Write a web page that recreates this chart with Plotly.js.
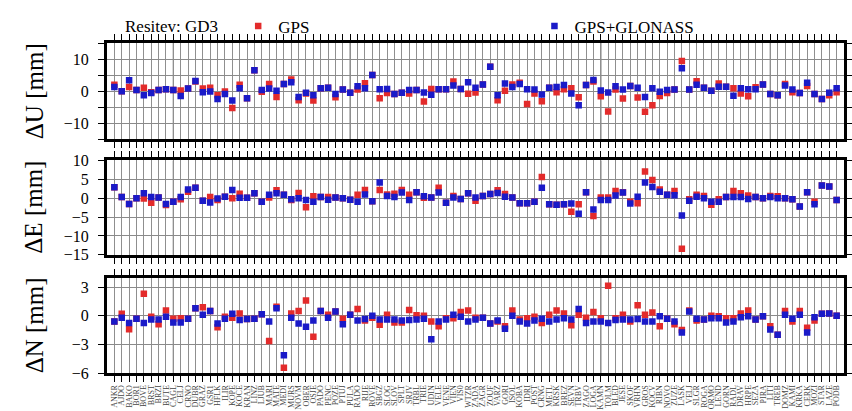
<!DOCTYPE html>
<html>
<head>
<meta charset="utf-8">
<script src="https://cdn.plot.ly/plotly-3.0.1.min.js"></script>
<style>html,body{margin:0;padding:0;background:#fff;}#chart{width:852px;height:411px;}</style>
</head>
<body>
<div id="chart"></div>
<script>
const stations = ["ANKR","AJDO","BAKO","BOR1","BOVE","BRST","BRZI","BUTE","CAGL","CELJ",
"CRNO","DUBR","GRAZ","GSR1","HFLK","ILIR","KOPE","KOCE","KRAN","LINZ",
"LJUB","MARI","MATE","MEDI","MURS","NOVM","OBER","OSJE","PADO","PENC",
"POZE","PTUJ","PULA","RADO","RIJE","ROVE","SBGZ","SLOG","SLOV","SPLT",
"SRJV","TRBL","TRIE","UDIN","VELE","VENE","VIEN","VIS0","WTZR","ZADA",
"ZAGR","ZOUF","VARZ","GORI","ISOL","KOBA","IDRI","POST","CRNG","METL",
"KRSK","BREZ","SEVN","TRBV","ZAGO","LOGA","KAMN","TOLM","BLED","JESE",
"SKOF","VRHN","GROS","KOCV","RIBN","NOVO","ZUZE","LASK","VELJ","SLGR",
"ROGA","ORMO","LEND","GORN","RADL","DRAV","HRPE","SEZA","PIRA","LITI",
"TREB","DOMZ","KAMI","KRKA","CERK","MOZI","STAR","LAZE","PODB"];

const groupBreaks = ["CAGL","PULA","KAMN","LITI"];

// ΔU [mm]
const dU_gps = [2.0,0,1.3,0.4,1.1,-0.3,0.4,0.6,0.4,0.2,0.8,3.0,0.8,1.1,-1.3,-0.1,-5.2,2.0,-2.2,6.5,
-0.2,2.2,-1.8,2.2,3.6,-2.8,-0.7,-2.9,0.9,1.1,-1.9,0.5,-0.5,0.5,2.5,5.0,-2.2,-0.6,-0.9,-0.5,
-0.7,0.4,-3.2,0.7,0.6,0.6,3.0,0.7,-0.8,-0.4,2.1,7.6,-2.8,0.1,2.1,2.6,-4.0,-0.7,-3.1,1.1,
-0.3,0.6,0.9,-1.9,1.9,3.0,-1.6,-6.3,0.5,-2.3,1.6,-2.0,-6.4,-4.4,-1.5,-0.6,0.5,9.4,0.5,3.1,
1.1,0.1,2.4,1.4,0.9,-0.7,-1.6,1.2,2.1,-0.9,-1.3,2.2,-0.3,-0.6,1.6,-0.9,-2.4,-1.3,-0.3];
const dU_gg = [1.3,0,3.4,0.4,-1.3,-0.6,0.4,0.6,0.4,-1.5,0.8,3.2,-0.3,-0.1,-2.4,-0.9,-2.9,0.9,-2.2,6.5,
0.4,0.8,0.1,2.2,2.8,-1.8,-0.5,-1.3,0.9,1.1,-0.9,0.5,-0.5,1.5,0.9,5.0,0.6,0.7,-0.9,-0.5,
0.4,0.4,-0.4,-1.1,0.6,0.6,1.8,0.7,2.8,1.1,2.1,7.6,-1.3,2.4,1.3,2.2,0.6,0.5,-1.0,1.1,
1.3,1.9,-0.7,-4.4,1.9,3.5,0.2,-0.4,1.5,0.5,1.6,1.1,-1.8,0.9,-0.2,0.4,0.5,7.1,0.5,2.0,
1.1,0.1,1.4,1.4,-1.4,0.9,0.6,0.6,2.1,-0.9,-1.3,1.8,0.5,-0.6,2.6,-0.9,-2.4,-0.5,0.9];

// ΔE [mm]
const dE_gps = [2.9,0.3,-1.5,0,-0.1,-1.2,0.2,-1.8,-0.9,-0.3,1.7,2.8,-0.7,0.3,-0.5,0.4,0,1.2,0.1,1.3,
-0.9,0.2,2.1,0.9,-0.5,1.4,-2.4,0.5,0.3,0.3,0.2,0,-0.4,0.9,2.2,-0.8,2.2,1.0,1.2,2.2,
0.9,1.6,0.1,0.2,2.8,-1.2,0.6,-0.2,1.3,-0.7,0.6,1.1,2.1,1.1,0.2,-1.3,-1.3,-0.9,5.6,-1.6,
-1.7,-1.6,-3.6,-1.6,1.6,-4.7,0.2,0.2,1.9,1.6,-0.9,-1.3,7.1,4.8,2.3,0.9,1.9,-13.4,-0.3,0.9,
0.6,-1.7,-0.3,0.3,1.9,1.3,0.7,0.3,0,0.6,0.5,0,-0.3,-2.2,1.6,-0.9,3.4,3.1,-0.5];
const dE_gg = [2.9,0.3,-1.5,0,1.3,0.3,0.2,-1.5,-0.9,0.3,2.3,2.8,-0.7,-1.1,-0.1,0.4,2.2,0.1,0.1,1.3,
-0.9,0.9,1.3,0.9,-0.3,0,-0.5,-0.9,0.3,-0.4,0.2,0,-0.4,-0.9,1.0,-0.8,4.2,0.6,0.3,1.5,
-0.5,1.6,0.5,0.2,1.5,-1.2,0.2,-0.2,1.3,0.2,0.6,1.1,1.4,0.4,0.2,-1.3,-1.3,-0.9,2.8,-1.6,
-1.7,-1.6,-1.4,-4.1,1.6,-3.0,-0.5,-0.5,0.7,1.5,-1.4,0.4,4.2,3.0,1.7,0.9,0.8,-4.6,-0.7,0.4,
0,-0.9,-0.9,0.3,0.3,0.3,-0.2,0.3,0,0.3,0,0,-0.3,-2.2,1.6,-1.6,3.4,3.1,-0.5];

// ΔN [mm]
const dN_gps = [-0.6,0.2,-1.4,-0.3,2.3,-0.1,-0.9,0.55,-0.3,-0.25,-0.3,0.8,0.9,0.5,-1.2,-0.1,-0.2,0.25,-0.35,-0.3,
0.15,-2.65,0.95,-5.45,0.25,0.5,1.6,-2.2,0.5,0.1,0.45,-0.3,0.1,0.7,-0.5,-0.2,-0.95,0.1,-0.7,-0.7,
0.6,0.05,0,-0.6,-1.1,-0.25,-0.25,0.4,0.55,-0.2,-0.2,-0.8,-0.6,-1.1,0.55,-0.4,-0.25,-0.1,-0.75,0.1,
0.55,0.25,-1.0,0.1,-0.2,0.4,-0.25,3.15,-0.25,0.1,-0.6,1.1,0.1,0.35,-1.1,-0.3,-0.9,-1.5,0.55,-0.5,
-0.4,0,-0.05,-0.25,-0.25,0.25,0.55,-0.4,-0.05,-1.1,-2.0,0.5,-0.6,0.5,-1.25,-0.5,0.2,0.25,0];
const dN_gg = [-0.6,-0.2,-0.75,-0.3,-0.75,-0.4,-0.4,-0.1,-0.7,-0.7,-0.3,0.8,0.1,0.5,-0.8,-0.3,0.2,-0.45,-0.35,-0.3,
0.15,-0.6,0.8,-4.15,-0.2,-0.8,-1.15,-0.5,0.5,-0.2,0.45,-0.9,0.1,-0.5,-0.35,0,-0.4,-0.4,-0.4,-0.5,
-0.45,-0.4,-0.3,-2.45,-0.6,-0.4,0.1,-0.1,-0.6,-0.4,-0.2,-0.8,-0.5,-1.35,0,-0.6,-0.8,-0.5,-0.3,-0.6,
-0.4,-0.25,-0.4,0.7,-0.75,-0.6,-0.6,-0.75,-0.45,-0.4,-0.4,-0.35,-0.6,-0.6,-0.05,-0.3,-0.6,-1.75,0.45,-0.3,
-0.4,-0.25,-0.25,-0.7,-0.6,-0.15,-0.05,-0.4,-0.05,-1.45,-2.0,0.1,-0.3,0.1,-1.75,-0.15,0.2,0.25,0];

const seriesNames = ["GPS","GPS+GLONASS"];
const seriesColors = ["#e32b2b","#1a1ac8"];
const seriesLegends = ["legend","legend2"];

const FONT = "Liberation Serif, DejaVu Serif, serif";
const mk = (c) => ({symbol:"square", size:6.5, color:c});

const traces = [];
const panels = [[dU_gps,dU_gg,"x","y"],[dE_gps,dE_gg,"x2","y2"],[dN_gps,dN_gg,"x3","y3"]];
panels.forEach((p,k)=>{
  [p[0],p[1]].forEach((vals,s)=>{
    traces.push({type:"scatter", mode:"markers", x:stations, y:vals, xaxis:p[2], yaxis:p[3],
      name:seriesNames[s], legend:seriesLegends[s], showlegend:k===0, marker:mk(seriesColors[s]),
      hoverinfo:"x+y"});
  });
});

const xbase = (showLabels) => ({
  type:"category", range:[-1, stations.length], tickmode:"linear", tick0:0, dtick:1,
  showgrid:true, gridcolor:"#8f8f8f", gridwidth:1,
  ticks:"outside", ticklen:6, tickcolor:"#000", tickwidth:1,
  showline:true, linecolor:"#000", linewidth:3, mirror:"allticks",
  showticklabels:showLabels, tickangle:-90, tickfont:{family:FONT, size:8, color:"#444"},
  zeroline:false, fixedrange:true
});
const ybase = (domain, range, tickvals, ticktext) => ({
  domain:domain, range:range, tickvals:tickvals, ticktext:ticktext,
  showgrid:true, gridcolor:"#8a8a8a", gridwidth:1, zeroline:false,
  ticks:"outside", ticklen:6, tickcolor:"#000", tickwidth:1,
  showline:true, linecolor:"#000", linewidth:3, mirror:"allticks",
  tickfont:{family:FONT, size:16, color:"#000"}, ticklabelstandoff:6, fixedrange:true
});

const shapes = [];
[["x","y"],["x2","y2"],["x3","y3"]].forEach(a=>{
  groupBreaks.forEach(st=>{
    shapes.push({type:"line", xref:a[0], yref:a[1]+" domain", x0:st, x1:st, y0:0, y1:1,
      line:{color:"#222", width:1}, layer:"below"});
  });
});

const yTitles = ["ΔU [mm]","ΔE [mm]","ΔN [mm]"];
const yCenters = [0.854, 0.501, 0.1445];
const annotations = yTitles.map((t,i)=>({text:t, xref:"paper", yref:"paper", x:-0.099, y:yCenters[i],
  textangle:-90, showarrow:false, xanchor:"center", yanchor:"middle", font:{family:FONT, size:25, color:"#000"}}));
annotations.push({text:"Resitev: GD3", xref:"paper", yref:"paper", x:0.022, y:1.05, xanchor:"left", yanchor:"middle",
  showarrow:false, font:{family:FONT, size:17, color:"#000"}});

const legBase = (x) => ({orientation:"h", x:x, y:1.05, xanchor:"left", yanchor:"middle", bgcolor:"rgba(0,0,0,0)",
  borderwidth:0, font:{family:FONT, size:17, color:"#000"}});

const layout = {
  width:852, height:411, margin:{l:107, r:8, t:34, b:38},
  paper_bgcolor:"#fff", plot_bgcolor:"#fff",
  font:{family:FONT, color:"#000"},
  xaxis: Object.assign(xbase(false), {anchor:"y"}),
  xaxis2: Object.assign(xbase(false), {anchor:"y2"}),
  xaxis3: Object.assign(xbase(true), {anchor:"y3"}),
  yaxis: ybase([0.708,1],[-15,15],[-15,-10,-5,0,5,10,15],["","−10","","0","","10",""]),
  yaxis2: ybase([0.358,0.644],[-15,10],[-15,-10,-5,0,5,10],["−15","−10","−5","0","5","10"]),
  yaxis3: ybase([0,0.289],[-6,4],[-6,-3,0,3],["−6","−3","0","3"]),
  showlegend:true,
  legend: legBase(0.178),
  legend2: legBase(0.58),
  shapes:shapes, annotations:annotations
};

Plotly.newPlot("chart", traces, layout, {displayModeBar:false, staticPlot:true});
</script>
</body>
</html>
